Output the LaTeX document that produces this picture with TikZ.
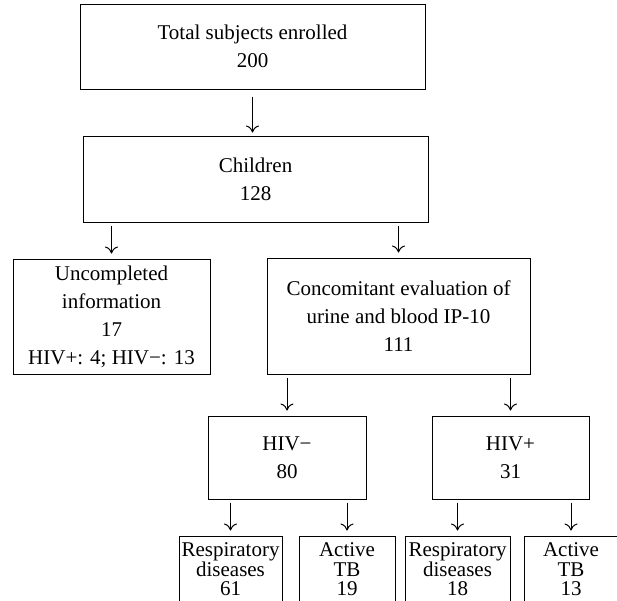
\documentclass[tikz,border=0pt]{standalone}
\usepackage{fontspec}
\setmainfont{Liberation Serif}
\usetikzlibrary{positioning,arrows.meta}

\begin{document}
\begin{tikzpicture}[x=1pt,y=-1pt,
    box/.style={draw, align=center, inner sep=0pt, font=\fontsize{21}{28}\selectfont},
    leaf/.style={draw, align=center, inner xsep=0pt, inner ysep=7pt, text depth=20pt, font=\fontsize{21}{19.5}\selectfont},
]
\useasboundingbox (0,0) rectangle (617,600);
\clip (0,0) rectangle (617,600);
\draw[
    line width=1pt, >={To[length=7pt,width=13pt]},
    every edge/.append style={->, shorten <=3pt, shorten >=5pt},
]
node[box, minimum width=345pt, minimum height=85pt] (total) at (252.5,46.5) {Total subjects enrolled \\ 200}
node[box, minimum width=345pt, minimum height=86pt, below=46pt of total, xshift=3pt] (children) {Children \\ 128}
(total.south) edge[shorten <=7pt, shorten >=3pt] (total.south |- children.north)

node[box, minimum width=197pt, minimum height=115pt, below=36pt of children, xshift=-144pt] (uncompl) {Uncompleted \\ information \\ 17 \\ HIV+: 4; HIV−: 13}
node[box, minimum width=263pt, minimum height=116pt, below=35pt of children, xshift=143pt] (concom) {Concomitant evaluation of \\ urine and blood IP-10 \\ 111}
(children.south -| uncompl) edge (uncompl)
(children.south -| concom) edge (concom)

node[box, minimum width=158pt, minimum height=83pt, below=41pt of concom, xshift=-111.5pt] (hivneg) {HIV− \\ 80}
node[box, minimum width=157pt, minimum height=83pt, right=65pt of hivneg] (hivpos) {HIV+ \\ 31}
(concom.south -| hivneg) edge (hivneg)
(concom.south -| hivpos) edge (hivpos)

node[leaf, minimum width=103pt, below=36pt of hivneg, xshift=-56.5pt] (resp1) {Respiratory \\ diseases \\ 61}
node[leaf, minimum width=96pt, below=36pt of hivneg, xshift=60pt] (tb1) {Active \\ TB \\ 19}
node[leaf, minimum width=105pt, below=36pt of hivpos, xshift=-53pt] (resp2) {Respiratory \\ diseases \\ 18}
node[leaf, minimum width=94pt, below=36pt of hivpos, xshift=60.5pt] (tb2) {Active \\ TB \\ 13}
(hivneg.south -| resp1) edge (resp1)
(hivneg.south -| tb1) edge (tb1)
(hivpos.south -| resp2) edge (resp2)
(hivpos.south -| tb2) edge (tb2)
;
\end{tikzpicture}
\end{document}
